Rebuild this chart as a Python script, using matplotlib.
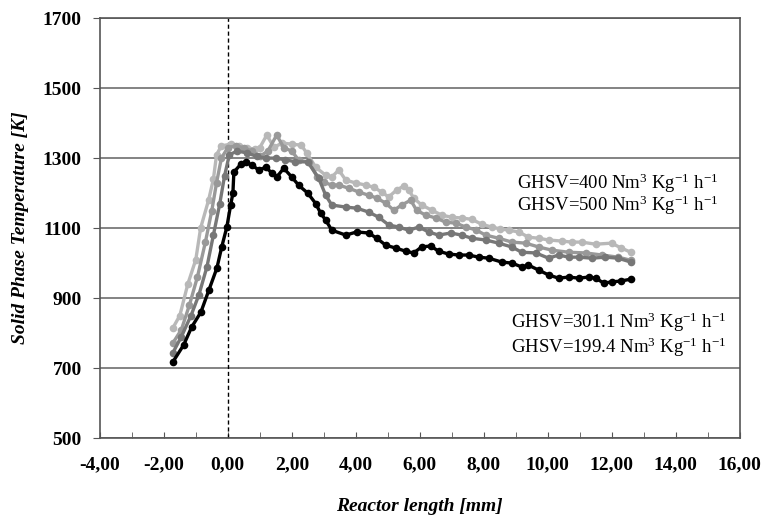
import matplotlib
matplotlib.use("Agg")
import matplotlib.pyplot as plt
from matplotlib.ticker import MultipleLocator, FuncFormatter

plt.rcParams["font.family"] = ["Liberation Serif", "DejaVu Serif"]
plt.rcParams["mathtext.fontset"] = "custom"
plt.rcParams["mathtext.rm"] = "Liberation Serif"
plt.rcParams["mathtext.it"] = "Liberation Serif:italic"

# GHSV = 500 (lightest)
x_500 = [-1.72, -1.5, -1.25, -1.0, -0.85, -0.6, -0.45, -0.35, -0.2, 0.1, 0.35, 0.6, 0.85,
         1.0, 1.22, 1.44, 1.7, 2.0, 2.3, 2.47, 2.75, 3.06, 3.25, 3.47, 3.69, 4.0, 4.31,
         4.56, 4.81, 5.03, 5.28, 5.5, 5.66, 5.81, 6.06, 6.38, 6.69, 7.0, 7.31, 7.63,
         7.94, 8.25, 8.5, 8.78, 9.1, 9.4, 9.72, 10.03, 10.44, 10.75, 11.06, 11.5, 12.0,
         12.3, 12.6]
t_500 = [814, 850, 940, 1010, 1100, 1180, 1240, 1310, 1335, 1340, 1335, 1330, 1325,
         1330, 1366, 1331, 1343, 1340, 1337, 1314, 1274, 1251, 1246, 1266, 1237, 1229, 1223,
         1217, 1203, 1189, 1209, 1220, 1209, 1186, 1166, 1151, 1137, 1131, 1129, 1125,
         1111, 1103, 1098, 1094, 1089, 1074, 1071, 1066, 1063, 1060, 1060, 1054, 1057,
         1043, 1031]

# GHSV = 400
x_400 = [-1.72, -1.45, -1.2, -0.95, -0.7, -0.5, -0.35, -0.2, 0.0, 0.25, 0.5, 0.75, 1.0,
         1.25, 1.53, 1.75, 2.0, 2.22, 2.53, 2.8, 3.0, 3.25, 3.47, 3.78, 4.1, 4.4, 4.66,
         4.94, 5.19, 5.44, 5.72, 5.9, 6.19, 6.5, 6.81, 7.13, 7.44, 7.75, 8.06, 8.47,
         8.88, 9.31, 9.72, 10.13, 10.66, 11.19, 11.7, 12.2, 12.6]
t_400 = [771, 810, 880, 960, 1060, 1150, 1230, 1300, 1330, 1335, 1330, 1320, 1305,
         1320, 1366, 1330, 1320, 1294, 1289, 1246, 1231, 1223, 1223, 1214, 1203, 1194, 1186,
         1171, 1151, 1166, 1180, 1151, 1137, 1129, 1117, 1114, 1103, 1095, 1080, 1071,
         1060, 1057, 1046, 1037, 1031, 1029, 1023, 1017, 1008]

# GHSV = 301.1
x_301 = [-1.72, -1.45, -1.15, -0.9, -0.65, -0.45, -0.25, -0.1, 0.05, 0.3, 0.6, 0.9, 1.2,
         1.5, 1.8, 2.1, 2.5, 2.84, 3.06, 3.25, 3.69, 4.03, 4.4, 4.72, 5.03, 5.34, 5.66,
         5.97, 6.28, 6.59, 6.97, 7.31, 7.63, 8.06, 8.47, 8.88, 9.19, 9.63, 10.03, 10.34,
         10.66, 10.97, 11.38, 11.8, 12.2, 12.6]
t_301 = [743, 790, 850, 910, 990, 1080, 1170, 1250, 1310, 1320, 1315, 1305, 1300,
         1300, 1295, 1290, 1289, 1243, 1194, 1166, 1160, 1157, 1146, 1131, 1109, 1103, 1094,
         1103, 1089, 1080, 1086, 1080, 1071, 1066, 1057, 1046, 1031, 1029, 1014, 1023,
         1017, 1017, 1014, 1017, 1014, 1003]

# GHSV = 199.4 (black)
x_199 = [-1.72, -1.38, -1.13, -0.84, -0.59, -0.34, -0.19, -0.03, 0.09, 0.16, 0.19, 0.41,
         0.56, 0.75, 0.97, 1.19, 1.38, 1.53, 1.75, 2.0, 2.22, 2.5, 2.75, 2.9, 3.06, 3.25,
         3.69, 4.03, 4.4, 4.66, 4.94, 5.25, 5.56, 5.81, 6.06, 6.34, 6.59, 6.9, 7.22, 7.53,
         7.84, 8.16, 8.56, 8.88, 9.19, 9.4, 9.72, 10.03, 10.34, 10.66, 10.97, 11.28, 11.5,
         11.75, 12.0, 12.3, 12.6]
t_199 = [717, 766, 817, 860, 923, 986, 1046, 1103, 1166, 1200, 1260, 1283,
         1289, 1280, 1266, 1274, 1257, 1246, 1271, 1246, 1222, 1200, 1170, 1143, 1123, 1094,
         1080, 1089, 1086, 1071, 1051, 1043, 1034, 1029, 1046, 1049, 1034, 1026, 1023, 1023,
         1017, 1014, 1003, 1000, 989, 994, 980, 966, 957, 960, 957, 960, 957,
         943, 946, 949, 954]

series = [
    (x_500, t_500, "#b8b8b8"),
    (x_400, t_400, "#999999"),
    (x_301, t_301, "#777777"),
    (x_199, t_199, "#000000"),
]

y_ticks = [500, 700, 900, 1100, 1300, 1500, 1700]

labels_top = [r"GHSV=400 Nm$^{3}$ Kg$^{-1}$ h$^{-1}$",
              r"GHSV=500 Nm$^{3}$ Kg$^{-1}$ h$^{-1}$"]
labels_bottom = [r"GHSV=301.1 Nm$^{3}$ Kg$^{-1}$ h$^{-1}$",
                 r"GHSV=199.4 Nm$^{3}$ Kg$^{-1}$ h$^{-1}$"]

fig = plt.figure(figsize=(7.68, 5.19), dpi=100)
ax = fig.add_axes([0.130, 0.156, 0.833, 0.809])

for xs, ts, c in series:
    ax.plot(xs, ts, color=c, linewidth=2.4, marker="o", markersize=5.5,
            markeredgewidth=0, zorder=3)

ax.axvline(0, color="black", linestyle=(0, (3, 2)), linewidth=1, zorder=2)

ax.set_xlim(-4, 16)
ax.set_ylim(500, 1700)
ax.xaxis.set_major_locator(MultipleLocator(2))
ax.xaxis.set_minor_locator(MultipleLocator(1))
ax.set_yticks(y_ticks)
ax.xaxis.set_major_formatter(FuncFormatter(lambda v, p: f"{v:.2f}".replace(".", ",")))

ax.grid(axis="y", color="#7a7a7a", linewidth=1.3, zorder=1)
for s in ax.spines.values():
    s.set_color("#555555")
    s.set_linewidth(1.2)

ax.tick_params(axis="x", which="both", direction="in", length=4, color="#555555",
               pad=13, labelsize=14)
ax.tick_params(axis="y", direction="out", length=5, color="#555555", pad=8, labelsize=14)
for lab in ax.get_xticklabels() + ax.get_yticklabels():
    lab.set_fontweight("bold")

ax.set_xlabel("Reactor length [mm]", fontsize=14, fontweight="bold", style="italic",
              labelpad=18)
ax.set_ylabel("Solid Phase Temperature [K]", fontsize=14, fontweight="bold",
              style="italic", labelpad=10)

for lab, t in zip(labels_top, [1229, 1166]):
    ax.text(15.35, t, lab, ha="right", va="center", fontsize=13.5)
for lab, t in zip(labels_bottom, [831, 760]):
    ax.text(15.6, t, lab, ha="right", va="center", fontsize=13.5)

fig.savefig("out.png", dpi=100)
